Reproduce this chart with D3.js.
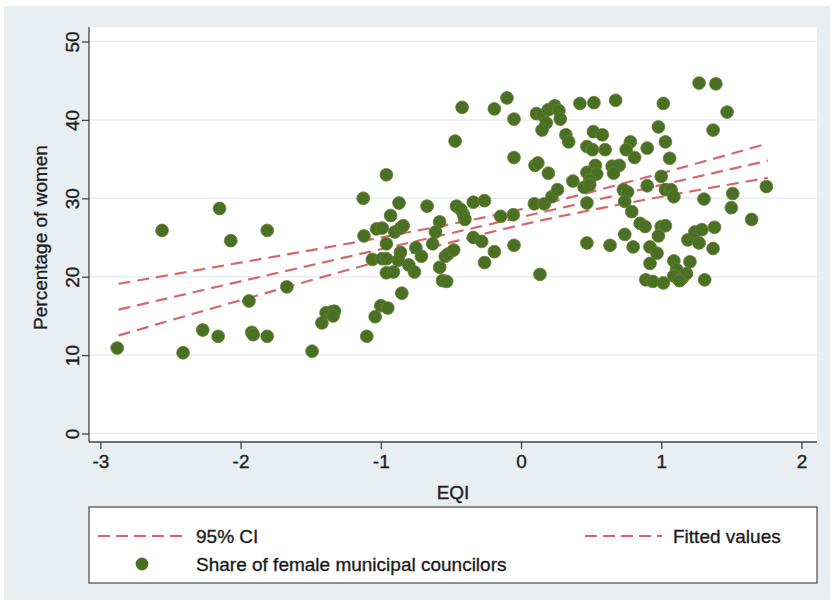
<!DOCTYPE html>
<html>
<head>
<meta charset="utf-8">
<script src="https://cdn.jsdelivr.net/npm/d3@7"></script>
<style>
  body { margin: 0; background: #fff; }
  svg text { font-family: "Liberation Sans", Arial, Helvetica, sans-serif; fill: #1c1c1c; stroke: #1c1c1c; stroke-width: 0.35px; }
</style>
</head>
<body>
<div class="chart"></div>
<script>
// share of female municipal councilors vs EQI
const eqi = [
  -2.88, -2.56, -2.41, -2.27, -2.15, -2.16, -2.07, -1.94, -1.92, -1.91,
  -1.81, -1.81, -1.67, -1.49, -1.42, -1.39, -1.35, -1.33, -1.34, -1.125,
  -1.12, -1.10, -1.06, -1.04, -1.00, -1.03, -0.99, -0.99, -0.96, -0.95,
  -0.96, -0.93, -0.96, -0.90, -0.86, -0.84, -0.87, -0.96, -0.91, -0.875,
  -0.86, -0.80, -0.76, -0.85, -0.75, -0.71, -0.67, -0.63, -0.58, -0.61,
  -0.58, -0.56, -0.53, -0.54, -0.52, -0.48, -0.47, -0.46, -0.43, -0.41,
  -0.40, -0.42, -0.34, -0.26, -0.34, -0.28, -0.26, -0.19, -0.19, -0.10,
  -0.05, -0.05, -0.145, -0.055, -0.05,
  0.095, 0.166, 0.22, 0.26, 0.10, 0.12, 0.195, 0.37, 0.47, 0.47,
  0.135, 0.11, 0.155, 0.195, 0.24, 0.27, 0.28, 0.18, 0.15, 0.42,
  0.52, 0.675, 0.32, 0.34, 0.516, 0.58, 0.47, 0.51, 0.60, 0.78,
  0.75, 0.81, 0.90, 0.53, 0.47, 0.54, 0.49, 0.45, 0.49, 0.65,
  0.70, 0.66, 0.73, 0.76, 0.90, 0.74, 0.79, 0.85, 0.885, 0.635,
  0.74, 0.80, 0.92, 0.97, 0.92, 0.89, 0.94, 1.015, 1.27, 1.39,
  1.015, 1.47, 0.98, 1.37, 1.03, 1.06, 1.00, 1.03, 1.07, 1.09,
  1.305, 1.51, 1.50, 1.75, 1.645, 1.00, 1.03, 0.98, 1.19, 1.24,
  1.29, 1.27, 1.38, 1.37, 1.09, 1.205, 1.11, 1.09, 1.15, 1.18,
  1.13, 1.31
];
const women = [
  10.9, 25.9, 10.3, 13.2, 28.7, 12.4, 24.6, 16.9, 12.9, 12.6,
  25.9, 12.4, 18.7, 10.5, 14.1, 15.4, 15.5, 15.6, 15.0, 30.0,
  25.2, 12.4, 22.2, 14.9, 16.3, 26.1, 26.2, 22.3, 22.3, 16.0,
  33.0, 27.8, 24.2, 25.7, 26.2, 26.5, 29.4, 20.5, 20.6, 22.1,
  23.1, 21.5, 20.6, 17.9, 23.7, 22.6, 29.0, 24.2, 27.0, 25.7,
  21.2, 19.5, 19.4, 22.6, 22.9, 23.4, 37.3, 29.0, 28.6, 27.9,
  27.3, 41.6, 29.5, 29.7, 25.0, 24.5, 21.8, 23.2, 41.4, 42.8,
  40.1, 35.2, 27.7, 27.9, 24.0,
  29.3, 29.3, 30.2, 31.1, 34.2, 34.5, 33.2, 32.2, 29.4, 24.3,
  20.3, 40.8, 40.6, 41.3, 41.8, 41.2, 40.1, 39.6, 38.7, 42.1,
  42.2, 42.5, 38.1, 37.2, 38.5, 38.1, 36.6, 36.2, 36.2, 37.2,
  36.2, 35.2, 36.4, 34.2, 33.3, 33.1, 32.3, 31.4, 31.7, 34.1,
  34.2, 33.2, 31.1, 30.8, 31.6, 29.6, 28.3, 26.8, 26.4, 24.0,
  25.4, 23.8, 23.8, 23.0, 21.7, 19.6, 19.4, 19.2, 44.7, 44.6,
  42.1, 41.0, 39.1, 38.7, 37.2, 35.1, 32.8, 31.1, 31.1, 30.2,
  29.9, 30.6, 28.8, 31.5, 27.3, 26.4, 26.5, 25.2, 24.7, 25.7,
  26.0, 24.3, 26.3, 23.6, 22.0, 21.9, 20.9, 20.1, 19.8, 20.4,
  19.5, 19.6
];

// fitted line and 95% CI bounds
const fitX = [-2.87, -2, -1, 0, 1, 1.76];
const fitted = [15.8, 19.4, 23.5, 27.6, 31.7, 34.8];
const ciUpper = [19.1, 21.8, 25.0, 28.6, 33.2, 37.0];
const ciLower = [12.5, 17.0, 22.0, 26.6, 30.2, 32.6];

const xTicks = [-3, -2, -1, 0, 1, 2];
const yTicks = [0, 10, 20, 30, 40, 50];

const width = 834, height = 604;
const plotLeft = 89, plotRight = 817, plotTop = 27, plotBottom = 442;
const dotColor = "#4b7024";
const lineColor = "#d5676a";

const svg = d3.select(".chart").append("svg")
  .attr("width", width)
  .attr("height", height);

svg.append("rect")
  .attr("x", 4).attr("y", 6)
  .attr("width", 826).attr("height", 594)
  .attr("fill", "#e8eef2");

svg.append("rect")
  .attr("x", plotLeft).attr("y", plotTop)
  .attr("width", plotRight - plotLeft).attr("height", plotBottom - plotTop)
  .attr("fill", "#fff");

const x = d3.scaleLinear().domain([-3.081, 2.111]).range([plotLeft, plotRight]);
const y = d3.scaleLinear().domain([-1.084, 51.85]).range([plotBottom, plotTop]);

// gridlines
svg.append("g")
  .selectAll("line")
  .data(yTicks)
  .enter()
  .append("line")
  .attr("x1", plotLeft).attr("x2", plotRight)
  .attr("y1", d => y(d)).attr("y2", d => y(d))
  .attr("stroke", "#e9ecee")
  .attr("stroke-width", 1.5);

// axes
const xAxis = svg.append("g")
  .attr("transform", `translate(0,${plotBottom})`)
  .call(d3.axisBottom(x).tickValues(xTicks).tickFormat(d => String(d)).tickSize(7).tickSizeOuter(0).tickPadding(6));

const yAxis = svg.append("g")
  .attr("transform", `translate(${plotLeft},0)`)
  .call(d3.axisLeft(y).tickValues(yTicks).tickFormat(d => String(d)).tickSize(7).tickSizeOuter(0));

[xAxis, yAxis].forEach(g => {
  g.select(".domain").attr("stroke", "#444").attr("stroke-width", 1.3);
  g.selectAll(".tick line").attr("stroke", "#444").attr("stroke-width", 1.3);
  g.selectAll("text").attr("font-size", "19px").attr("fill", "#1c1c1c")
    .attr("font-family", "Liberation Sans, Arial, sans-serif");
});
xAxis.select(".domain").attr("d", `M${plotLeft},0H${plotRight}`);
yAxis.select(".domain").attr("d", `M0,${plotTop}V${plotBottom}`);

yAxis.selectAll(".tick text")
  .attr("transform", "rotate(-90)")
  .attr("x", 0)
  .attr("y", -10)
  .attr("dy", 0)
  .attr("text-anchor", "middle");

// axis titles
svg.append("text")
  .attr("x", (plotLeft + plotRight) / 2)
  .attr("y", 499)
  .attr("text-anchor", "middle")
  .attr("font-size", "19px")
  .text("EQI");

svg.append("text")
  .attr("transform", `translate(47,${y(25)}) rotate(-90)`)
  .attr("text-anchor", "middle")
  .attr("font-size", "19px")
  .text("Percentage of women");

// fit and ci lines
const line = d3.line()
  .x(d => x(d[0]))
  .y(d => y(d[1]))
  .curve(d3.curveMonotoneX);

[ciUpper, fitted, ciLower].forEach(vals => {
  svg.append("path")
    .datum(fitX.map((v, i) => [v, vals[i]]))
    .attr("d", line)
    .attr("fill", "none")
    .attr("stroke", lineColor)
    .attr("stroke-width", 2.2)
    .attr("stroke-dasharray", "12,7");
});

// scatter
svg.append("g")
  .selectAll("circle")
  .data(eqi.map((v, i) => [v, women[i]]))
  .enter()
  .append("circle")
  .attr("cx", d => x(d[0]))
  .attr("cy", d => y(d[1]))
  .attr("r", 6.4)
  .attr("fill", dotColor)
  .attr("stroke", "#5e8236")
  .attr("stroke-width", 0.8);

// legend
svg.append("rect")
  .attr("x", plotLeft).attr("y", 507)
  .attr("width", plotRight - plotLeft).attr("height", 76)
  .attr("fill", "#fff")
  .attr("stroke", "#555")
  .attr("stroke-width", 1.3);

const legendLines = [
  { x1: 98, x2: 182, label: "95% CI", tx: 196 },
  { x1: 585, x2: 662, label: "Fitted values", tx: 673 }
];
legendLines.forEach(l => {
  svg.append("line")
    .attr("x1", l.x1).attr("x2", l.x2)
    .attr("y1", 536).attr("y2", 536)
    .attr("stroke", lineColor)
    .attr("stroke-width", 2.2)
    .attr("stroke-dasharray", "12,6");
  svg.append("text")
    .attr("x", l.tx).attr("y", 543)
    .attr("font-size", "19px")
    .text(l.label);
});

svg.append("circle")
  .attr("cx", 142).attr("cy", 564)
  .attr("r", 6.4)
  .attr("fill", dotColor);

svg.append("text")
  .attr("x", 196).attr("y", 571)
  .attr("font-size", "19px")
  .text("Share of female municipal councilors");
</script>
</body>
</html>
